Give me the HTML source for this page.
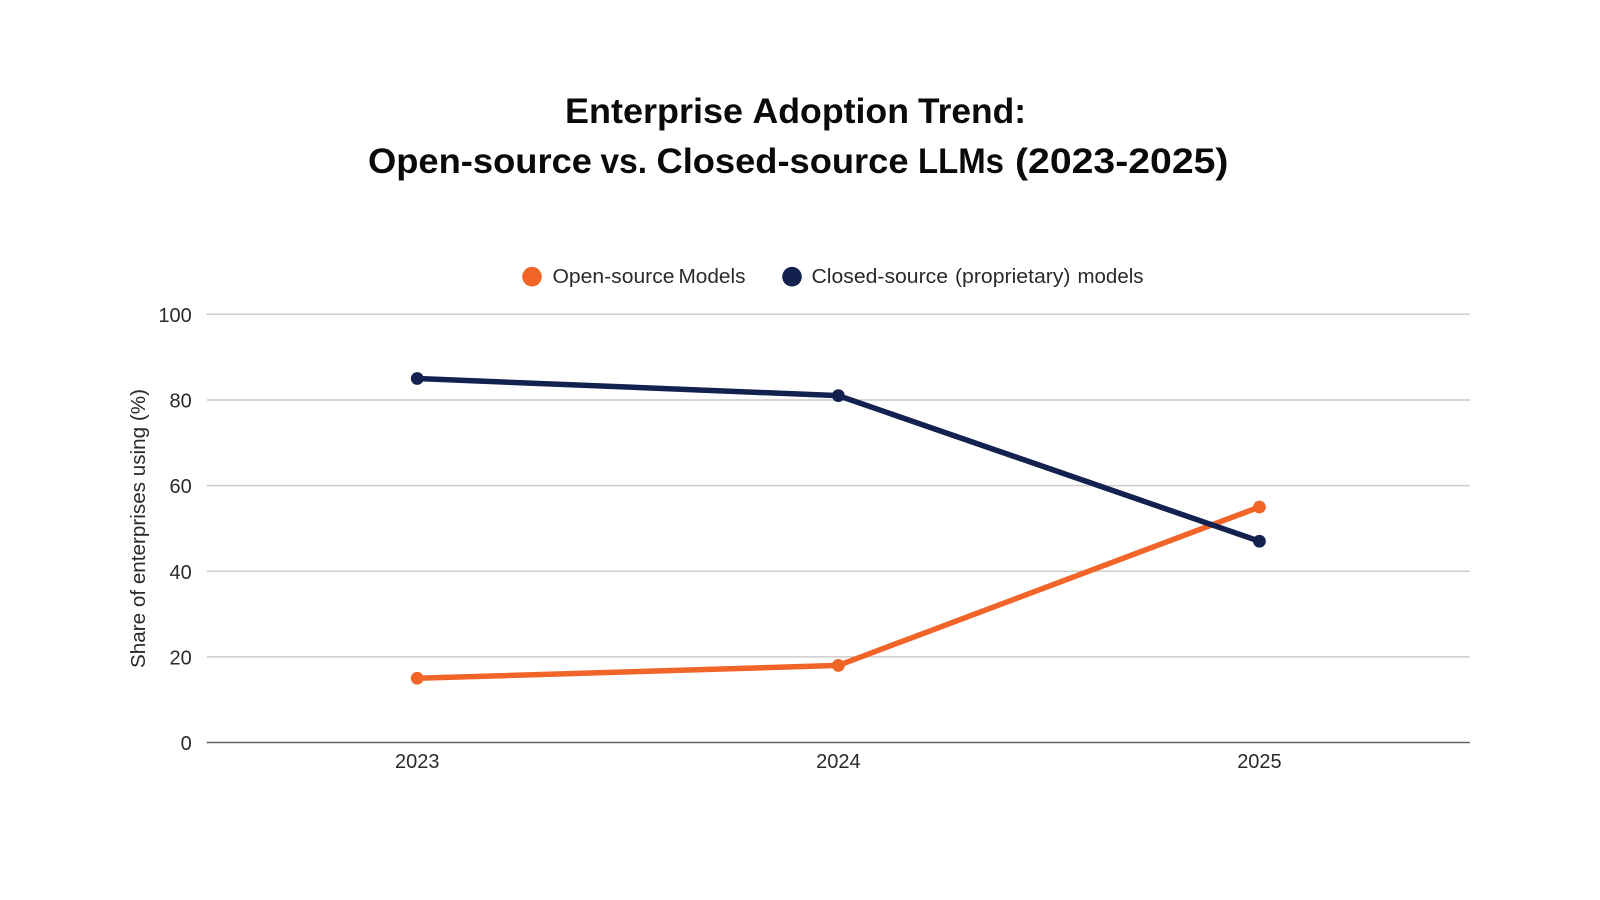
<!DOCTYPE html>
<html lang="en">
<head>
<meta charset="utf-8">
<title>Enterprise Adoption Trend</title>
<style>
  html, body { margin: 0; padding: 0; background: #fff; }
  svg { display: block; }
  text { font-family: "Liberation Sans", sans-serif; }
</style>
</head>
<body>
<svg id="chart" xmlns="http://www.w3.org/2000/svg" width="1600" height="900" viewBox="0 0 1600 900">
  <rect width="1600" height="900" fill="#ffffff"/>
  <text y="123" font-size="35" font-weight="700" fill="#0a0a0a"><tspan x="565" textLength="178" lengthAdjust="spacingAndGlyphs">Enterprise</tspan> <tspan x="752.5" textLength="156.5" lengthAdjust="spacingAndGlyphs">Adoption</tspan> <tspan x="918" textLength="108" lengthAdjust="spacingAndGlyphs">Trend:</tspan></text>
  <text y="173" font-size="35" font-weight="700" fill="#0a0a0a"><tspan x="368" textLength="224" lengthAdjust="spacingAndGlyphs">Open-source</tspan> <tspan x="600.5" textLength="46.5" lengthAdjust="spacingAndGlyphs">vs.</tspan> <tspan x="656.5" textLength="252" lengthAdjust="spacingAndGlyphs">Closed-source</tspan> <tspan x="918" textLength="86" lengthAdjust="spacingAndGlyphs">LLMs</tspan> <tspan x="1015" textLength="213.5" lengthAdjust="spacingAndGlyphs">(2023-2025)</tspan></text>

  <g>
    <g>
      <circle cx="532" cy="276.7" r="9.8" fill="#F26529"/>
      <text y="283" font-size="20" fill="#2a2a2a"><tspan x="552.5" textLength="122" lengthAdjust="spacingAndGlyphs">Open-source</tspan> <tspan x="678.5" textLength="67" lengthAdjust="spacingAndGlyphs">Models</tspan></text>
    </g>
    <g>
      <circle cx="792" cy="276.7" r="9.8" fill="#13214F"/>
      <text y="283" font-size="20" fill="#2a2a2a"><tspan x="811.5" textLength="136.5" lengthAdjust="spacingAndGlyphs">Closed-source</tspan> <tspan x="955" textLength="115.5" lengthAdjust="spacingAndGlyphs">(proprietary)</tspan> <tspan x="1077.5" textLength="66" lengthAdjust="spacingAndGlyphs">models</tspan></text>
    </g>
  </g>

  <text transform="translate(145 668) rotate(-90)" x="0" y="0" font-size="20" fill="#2a2a2a" textLength="279" lengthAdjust="spacingAndGlyphs">Share of enterprises using (%)</text>

  <g id="grid"></g>
  <g id="yticks"></g>
  <g id="xticks"></g>
  <g id="series"></g>
</svg>

<script>
const categories = ["2023", "2024", "2025"];
const openSourceValues = [15, 18, 55];
const closedSourceValues = [85, 81, 47];
const yTickLabels = [0, 20, 40, 60, 80, 100];

const NS = "http://www.w3.org/2000/svg";
const plot = { left: 206.7, right: 1470, top: 314.3, bottom: 742.5 };
const yMin = 0;
const yMax = 100;

function xScale(index) {
  const band = (plot.right - plot.left) / categories.length;
  return plot.left + band * (index + 0.5);
}
function yScale(value) {
  return plot.bottom - (value - yMin) / (yMax - yMin) * (plot.bottom - plot.top);
}
function make(tag, attrs, parent) {
  const el = document.createElementNS(NS, tag);
  for (const key in attrs) el.setAttribute(key, attrs[key]);
  parent.appendChild(el);
  return el;
}

const grid = document.getElementById("grid");
const yticks = document.getElementById("yticks");
const xticks = document.getElementById("xticks");
const seriesGroup = document.getElementById("series");

yTickLabels.forEach(function (tick) {
  const y = yScale(tick);
  const line = make("line", {
    x1: plot.left, x2: plot.right, y1: y, y2: y,
    stroke: tick === 0 ? "#666666" : "#cccccc",
    "stroke-width": 1.5
  }, grid);
  
  

  const label = make("text", {
    x: 191.8, y: y + 7.6, "text-anchor": "end", "font-size": 20, fill: "#2a2a2a"
  }, yticks);
  label.textContent = String(tick);
  
  
});

categories.forEach(function (category, i) {
  const label = make("text", {
    x: xScale(i), y: 768, "text-anchor": "middle", "font-size": 20, fill: "#2a2a2a"
  }, xticks);
  label.textContent = category;
  
  
});

function drawSeries(values, color, name) {
  const pts = values.map(function (v, i) { return xScale(i) + "," + yScale(v); }).join(" ");
  const line = make("polyline", {
    points: pts, fill: "none", stroke: color, "stroke-width": 5.5,
    "stroke-linejoin": "round", "stroke-linecap": "round"
  }, seriesGroup);
  
  
  values.forEach(function (v, i) {
    const dot = make("circle", { cx: xScale(i), cy: yScale(v), r: 6.4, fill: color }, seriesGroup);
    
    
  });
}

drawSeries(openSourceValues, "#F26529", "open-source");
drawSeries(closedSourceValues, "#13214F", "closed-source");
</script>
</body>
</html>
